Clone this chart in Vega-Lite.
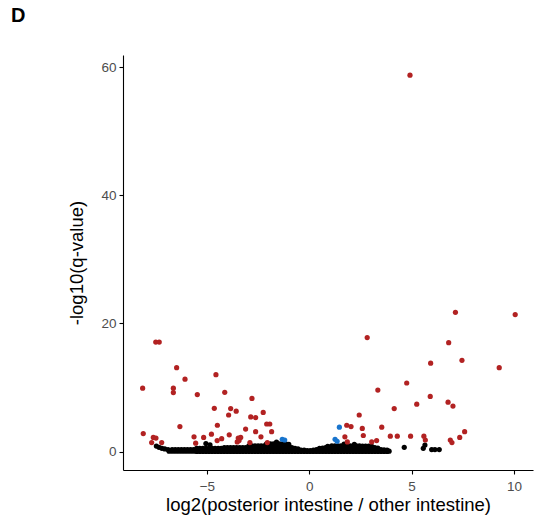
{
 "$schema": "https://vega.github.io/schema/vega-lite/v6.json",
 "width": 410, "height": 415,
 "autosize": {"type": "none"},
 "padding": {"left": 123, "top": 55, "right": 7, "bottom": 59},
 "background": "white",
 "title": {"text": "D", "anchor": "start", "frame": "group", "orient": "top", "offset": 31, "baseline": "alphabetic", "dx": -112, "dy": 18, "fontSize": 20, "fontWeight": "bold", "font": "Liberation Sans", "color": "black"},
 "config": {
   "view": {"stroke": null},
   "axis": {"domainColor": "black", "domainWidth": 1.1, "tickColor": "black", "tickWidth": 1.1, "tickSize": 4, "labelColor": "#4D4D4D", "labelFont": "Liberation Sans", "labelFontSize": 13.5, "titleFont": "Liberation Sans", "titleFontSize": 18.5, "titleFontWeight": "normal", "titleColor": "black", "grid": false}
 },
 "data": {"values": [
  {"x": -7.47, "y": 0.85, "g": "ns"}, {"x": -7.34, "y": 0.65, "g": "ns"}, {"x": -7.2, "y": 0.5, "g": "ns"}, {"x": -7.06, "y": 0.4, "g": "ns"}, {"x": -6.9, "y": 0.3, "g": "ns"}, {"x": -6.85, "y": 0.05, "g": "ns"},
  {"x": -6.7, "y": 0.05, "g": "ns"}, {"x": -6.7, "y": 0.3, "g": "ns"}, {"x": -6.55, "y": 0.05, "g": "ns"}, {"x": -6.55, "y": 0.3, "g": "ns"}, {"x": -6.4, "y": 0.05, "g": "ns"}, {"x": -6.4, "y": 0.3, "g": "ns"}, {"x": -6.25, "y": 0.05, "g": "ns"}, {"x": -6.25, "y": 0.3, "g": "ns"}, {"x": -6.1, "y": 0.05, "g": "ns"}, {"x": -6.1, "y": 0.3, "g": "ns"}, {"x": -5.95, "y": 0.05, "g": "ns"}, {"x": -5.95, "y": 0.3, "g": "ns"}, {"x": -5.8, "y": 0.05, "g": "ns"}, {"x": -5.8, "y": 0.3, "g": "ns"}, {"x": -5.65, "y": 0.05, "g": "ns"}, {"x": -5.65, "y": 0.3, "g": "ns"},
  {"x": -5.5, "y": 0, "g": "ns"}, {"x": -5.5, "y": 0.25, "g": "ns"}, {"x": -5.5, "y": 0.5, "g": "ns"}, {"x": -5.35, "y": 0, "g": "ns"}, {"x": -5.35, "y": 0.25, "g": "ns"}, {"x": -5.35, "y": 0.5, "g": "ns"}, {"x": -5.2, "y": 0, "g": "ns"}, {"x": -5.2, "y": 0.25, "g": "ns"}, {"x": -5.2, "y": 0.5, "g": "ns"}, {"x": -5.05, "y": 0, "g": "ns"}, {"x": -5.05, "y": 0.25, "g": "ns"}, {"x": -5.05, "y": 0.5, "g": "ns"}, {"x": -4.9, "y": 0, "g": "ns"}, {"x": -4.9, "y": 0.25, "g": "ns"}, {"x": -4.9, "y": 0.5, "g": "ns"}, {"x": -4.75, "y": 0, "g": "ns"}, {"x": -4.75, "y": 0.25, "g": "ns"}, {"x": -4.75, "y": 0.5, "g": "ns"}, {"x": -4.6, "y": 0, "g": "ns"}, {"x": -4.6, "y": 0.25, "g": "ns"}, {"x": -4.6, "y": 0.5, "g": "ns"}, {"x": -4.45, "y": 0, "g": "ns"}, {"x": -4.45, "y": 0.25, "g": "ns"}, {"x": -4.45, "y": 0.5, "g": "ns"}, {"x": -4.3, "y": 0, "g": "ns"}, {"x": -4.3, "y": 0.25, "g": "ns"}, {"x": -4.3, "y": 0.5, "g": "ns"},
  {"x": -4.15, "y": 0, "g": "ns"}, {"x": -4.15, "y": 0.3, "g": "ns"}, {"x": -4.15, "y": 0.6, "g": "ns"}, {"x": -4.0, "y": 0, "g": "ns"}, {"x": -4.0, "y": 0.3, "g": "ns"}, {"x": -4.0, "y": 0.6, "g": "ns"}, {"x": -3.85, "y": 0, "g": "ns"}, {"x": -3.85, "y": 0.3, "g": "ns"}, {"x": -3.85, "y": 0.6, "g": "ns"}, {"x": -3.7, "y": 0, "g": "ns"}, {"x": -3.7, "y": 0.3, "g": "ns"}, {"x": -3.7, "y": 0.6, "g": "ns"}, {"x": -3.55, "y": 0, "g": "ns"}, {"x": -3.55, "y": 0.3, "g": "ns"}, {"x": -3.55, "y": 0.6, "g": "ns"}, {"x": -3.4, "y": 0, "g": "ns"}, {"x": -3.4, "y": 0.3, "g": "ns"}, {"x": -3.4, "y": 0.6, "g": "ns"}, {"x": -3.25, "y": 0, "g": "ns"}, {"x": -3.25, "y": 0.3, "g": "ns"}, {"x": -3.25, "y": 0.6, "g": "ns"}, {"x": -3.1, "y": 0, "g": "ns"}, {"x": -3.1, "y": 0.3, "g": "ns"}, {"x": -3.1, "y": 0.6, "g": "ns"},
  {"x": -2.95, "y": 0, "g": "ns"}, {"x": -2.95, "y": 0.3, "g": "ns"}, {"x": -2.95, "y": 0.6, "g": "ns"}, {"x": -2.95, "y": 0.9, "g": "ns"}, {"x": -2.8, "y": 0, "g": "ns"}, {"x": -2.8, "y": 0.3, "g": "ns"}, {"x": -2.8, "y": 0.6, "g": "ns"}, {"x": -2.8, "y": 0.9, "g": "ns"}, {"x": -2.65, "y": 0, "g": "ns"}, {"x": -2.65, "y": 0.3, "g": "ns"}, {"x": -2.65, "y": 0.6, "g": "ns"}, {"x": -2.65, "y": 0.9, "g": "ns"}, {"x": -2.5, "y": 0, "g": "ns"}, {"x": -2.5, "y": 0.3, "g": "ns"}, {"x": -2.5, "y": 0.6, "g": "ns"}, {"x": -2.5, "y": 0.9, "g": "ns"}, {"x": -2.35, "y": 0, "g": "ns"}, {"x": -2.35, "y": 0.3, "g": "ns"}, {"x": -2.35, "y": 0.6, "g": "ns"}, {"x": -2.35, "y": 0.9, "g": "ns"}, {"x": -2.2, "y": 0, "g": "ns"}, {"x": -2.2, "y": 0.3, "g": "ns"}, {"x": -2.2, "y": 0.6, "g": "ns"}, {"x": -2.2, "y": 0.9, "g": "ns"}, {"x": -2.05, "y": 0, "g": "ns"}, {"x": -2.05, "y": 0.3, "g": "ns"}, {"x": -2.05, "y": 0.6, "g": "ns"}, {"x": -2.05, "y": 0.9, "g": "ns"},
  {"x": -1.9, "y": 0, "g": "ns"}, {"x": -1.9, "y": 0.3, "g": "ns"}, {"x": -1.9, "y": 0.6, "g": "ns"}, {"x": -1.9, "y": 0.9, "g": "ns"}, {"x": -1.9, "y": 1.2, "g": "ns"}, {"x": -1.75, "y": 0, "g": "ns"}, {"x": -1.75, "y": 0.3, "g": "ns"}, {"x": -1.75, "y": 0.6, "g": "ns"}, {"x": -1.75, "y": 0.9, "g": "ns"}, {"x": -1.75, "y": 1.2, "g": "ns"}, {"x": -1.6, "y": 0, "g": "ns"}, {"x": -1.6, "y": 0.3, "g": "ns"}, {"x": -1.6, "y": 0.6, "g": "ns"}, {"x": -1.6, "y": 0.9, "g": "ns"}, {"x": -1.6, "y": 1.2, "g": "ns"}, {"x": -1.45, "y": 0, "g": "ns"}, {"x": -1.45, "y": 0.3, "g": "ns"}, {"x": -1.45, "y": 0.6, "g": "ns"}, {"x": -1.45, "y": 0.9, "g": "ns"}, {"x": -1.45, "y": 1.2, "g": "ns"}, {"x": -1.3, "y": 0, "g": "ns"}, {"x": -1.3, "y": 0.3, "g": "ns"}, {"x": -1.3, "y": 0.6, "g": "ns"}, {"x": -1.3, "y": 0.9, "g": "ns"}, {"x": -1.3, "y": 1.2, "g": "ns"}, {"x": -1.15, "y": 0, "g": "ns"}, {"x": -1.15, "y": 0.3, "g": "ns"}, {"x": -1.15, "y": 0.6, "g": "ns"}, {"x": -1.15, "y": 0.9, "g": "ns"}, {"x": -1.15, "y": 1.2, "g": "ns"}, {"x": -1.0, "y": 0, "g": "ns"}, {"x": -1.0, "y": 0.3, "g": "ns"}, {"x": -1.0, "y": 0.6, "g": "ns"}, {"x": -1.0, "y": 0.9, "g": "ns"}, {"x": -1.0, "y": 1.1, "g": "ns"},
  {"x": -0.85, "y": 0, "g": "ns"}, {"x": -0.85, "y": 0.3, "g": "ns"}, {"x": -0.85, "y": 0.6, "g": "ns"}, {"x": -0.7, "y": 0, "g": "ns"}, {"x": -0.7, "y": 0.3, "g": "ns"}, {"x": -0.7, "y": 0.5, "g": "ns"}, {"x": -0.55, "y": 0, "g": "ns"}, {"x": -0.55, "y": 0.3, "g": "ns"}, {"x": -0.55, "y": 0.4, "g": "ns"},
  {"x": -0.4, "y": 0, "g": "ns"}, {"x": -0.4, "y": 0.2, "g": "ns"}, {"x": -0.25, "y": 0, "g": "ns"}, {"x": -0.25, "y": 0.2, "g": "ns"}, {"x": -0.1, "y": 0, "g": "ns"}, {"x": -0.1, "y": 0.15, "g": "ns"}, {"x": 0.05, "y": 0, "g": "ns"}, {"x": 0.05, "y": 0.15, "g": "ns"}, {"x": 0.2, "y": 0, "g": "ns"}, {"x": 0.2, "y": 0.2, "g": "ns"}, {"x": 0.35, "y": 0, "g": "ns"}, {"x": 0.35, "y": 0.3, "g": "ns"},
  {"x": 0.5, "y": 0, "g": "ns"}, {"x": 0.5, "y": 0.3, "g": "ns"}, {"x": 0.5, "y": 0.5, "g": "ns"}, {"x": 0.65, "y": 0, "g": "ns"}, {"x": 0.65, "y": 0.3, "g": "ns"}, {"x": 0.65, "y": 0.55, "g": "ns"}, {"x": 0.8, "y": 0, "g": "ns"}, {"x": 0.8, "y": 0.3, "g": "ns"}, {"x": 0.8, "y": 0.6, "g": "ns"}, {"x": 0.95, "y": 0, "g": "ns"}, {"x": 0.95, "y": 0.3, "g": "ns"}, {"x": 0.95, "y": 0.7, "g": "ns"},
  {"x": 1.1, "y": 0, "g": "ns"}, {"x": 1.1, "y": 0.3, "g": "ns"}, {"x": 1.1, "y": 0.6, "g": "ns"}, {"x": 1.1, "y": 0.9, "g": "ns"}, {"x": 1.25, "y": 0, "g": "ns"}, {"x": 1.25, "y": 0.3, "g": "ns"}, {"x": 1.25, "y": 0.6, "g": "ns"}, {"x": 1.25, "y": 0.9, "g": "ns"}, {"x": 1.4, "y": 0, "g": "ns"}, {"x": 1.4, "y": 0.3, "g": "ns"}, {"x": 1.4, "y": 0.6, "g": "ns"}, {"x": 1.4, "y": 0.9, "g": "ns"}, {"x": 1.55, "y": 0, "g": "ns"}, {"x": 1.55, "y": 0.3, "g": "ns"}, {"x": 1.55, "y": 0.6, "g": "ns"}, {"x": 1.55, "y": 0.9, "g": "ns"}, {"x": 1.7, "y": 0, "g": "ns"}, {"x": 1.7, "y": 0.3, "g": "ns"}, {"x": 1.7, "y": 0.6, "g": "ns"}, {"x": 1.7, "y": 0.9, "g": "ns"}, {"x": 1.85, "y": 0, "g": "ns"}, {"x": 1.85, "y": 0.3, "g": "ns"}, {"x": 1.85, "y": 0.6, "g": "ns"}, {"x": 1.85, "y": 0.9, "g": "ns"}, {"x": 2.0, "y": 0, "g": "ns"}, {"x": 2.0, "y": 0.3, "g": "ns"}, {"x": 2.0, "y": 0.6, "g": "ns"}, {"x": 2.0, "y": 0.9, "g": "ns"}, {"x": 2.15, "y": 0, "g": "ns"}, {"x": 2.15, "y": 0.3, "g": "ns"}, {"x": 2.15, "y": 0.6, "g": "ns"}, {"x": 2.15, "y": 0.9, "g": "ns"}, {"x": 2.3, "y": 0, "g": "ns"}, {"x": 2.3, "y": 0.3, "g": "ns"}, {"x": 2.3, "y": 0.6, "g": "ns"}, {"x": 2.3, "y": 0.9, "g": "ns"}, {"x": 2.45, "y": 0, "g": "ns"}, {"x": 2.45, "y": 0.3, "g": "ns"}, {"x": 2.45, "y": 0.6, "g": "ns"}, {"x": 2.45, "y": 0.9, "g": "ns"},
  {"x": 2.6, "y": 0, "g": "ns"}, {"x": 2.6, "y": 0.3, "g": "ns"}, {"x": 2.6, "y": 0.6, "g": "ns"}, {"x": 2.6, "y": 0.85, "g": "ns"}, {"x": 2.75, "y": 0, "g": "ns"}, {"x": 2.75, "y": 0.3, "g": "ns"}, {"x": 2.75, "y": 0.6, "g": "ns"}, {"x": 2.75, "y": 0.85, "g": "ns"}, {"x": 2.9, "y": 0, "g": "ns"}, {"x": 2.9, "y": 0.3, "g": "ns"}, {"x": 2.9, "y": 0.6, "g": "ns"}, {"x": 2.9, "y": 0.85, "g": "ns"}, {"x": 3.05, "y": 0, "g": "ns"}, {"x": 3.05, "y": 0.3, "g": "ns"}, {"x": 3.05, "y": 0.6, "g": "ns"}, {"x": 3.05, "y": 0.8, "g": "ns"}, {"x": 3.2, "y": 0, "g": "ns"}, {"x": 3.2, "y": 0.3, "g": "ns"}, {"x": 3.2, "y": 0.6, "g": "ns"}, {"x": 3.35, "y": 0, "g": "ns"}, {"x": 3.35, "y": 0.3, "g": "ns"}, {"x": 3.35, "y": 0.55, "g": "ns"},
  {"x": 3.5, "y": 0, "g": "ns"}, {"x": 3.5, "y": 0.3, "g": "ns"}, {"x": 3.65, "y": 0, "g": "ns"}, {"x": 3.65, "y": 0.25, "g": "ns"}, {"x": 3.8, "y": 0, "g": "ns"}, {"x": 3.8, "y": 0.2, "g": "ns"}, {"x": 3.9, "y": 0.05, "g": "ns"},
  {"x": -5.05, "y": 1.25, "g": "ns"}, {"x": -4.85, "y": 1.05, "g": "ns"}, {"x": -1.6, "y": 1.45, "g": "ns"}, {"x": -2.1, "y": 1.15, "g": "ns"}, {"x": 1.7, "y": 1.15, "g": "ns"}, {"x": 2.2, "y": 1.1, "g": "ns"}, {"x": 0.9, "y": 0.8, "g": "ns"},
  {"x": 4.64, "y": 0.65, "g": "ns"}, {"x": 5.57, "y": 0.5, "g": "ns"}, {"x": 5.65, "y": 1.0, "g": "ns"}, {"x": 5.98, "y": 0.3, "g": "ns"}, {"x": 6.14, "y": 0.3, "g": "ns"}, {"x": 6.35, "y": 0.3, "g": "ns"},
  {"x": -7.5, "y": 17.1, "g": "sig"}, {"x": -7.33, "y": 17.1, "g": "sig"}, {"x": -8.14, "y": 9.9, "g": "sig"}, {"x": -6.48, "y": 13.1, "g": "sig"}, {"x": -6.07, "y": 11.3, "g": "sig"}, {"x": -6.64, "y": 9.9, "g": "sig"}, {"x": -6.64, "y": 9.2, "g": "sig"}, {"x": -5.47, "y": 8.9, "g": "sig"}, {"x": -4.56, "y": 12.0, "g": "sig"}, {"x": -4.13, "y": 9.25, "g": "sig"}, {"x": -4.64, "y": 6.75, "g": "sig"}, {"x": -3.84, "y": 6.7, "g": "sig"}, {"x": -3.57, "y": 6.3, "g": "sig"}, {"x": -3.94, "y": 5.7, "g": "sig"}, {"x": -2.8, "y": 8.3, "g": "sig"}, {"x": -2.86, "y": 5.4, "g": "sig"}, {"x": -2.62, "y": 5.3, "g": "sig"}, {"x": -2.25, "y": 6.1, "g": "sig"}, {"x": -2.08, "y": 4.3, "g": "sig"}, {"x": -1.93, "y": 4.3, "g": "sig"}, {"x": -1.84, "y": 3.1, "g": "sig"}, {"x": -6.32, "y": 3.9, "g": "sig"}, {"x": -4.49, "y": 4.1, "g": "sig"}, {"x": -3.11, "y": 3.5, "g": "sig"}, {"x": -2.62, "y": 3.1, "g": "sig"}, {"x": -8.11, "y": 2.8, "g": "sig"}, {"x": -7.62, "y": 2.2, "g": "sig"}, {"x": -7.49, "y": 2.1, "g": "sig"}, {"x": -7.7, "y": 1.4, "g": "sig"}, {"x": -7.21, "y": 1.4, "g": "sig"}, {"x": -5.63, "y": 2.3, "g": "sig"}, {"x": -5.55, "y": 1.3, "g": "sig"}, {"x": -5.16, "y": 2.2, "g": "sig"}, {"x": -4.78, "y": 2.7, "g": "sig"}, {"x": -4.28, "y": 2.0, "g": "sig"}, {"x": -4.5, "y": 1.7, "g": "sig"}, {"x": -3.91, "y": 2.6, "g": "sig"}, {"x": -3.47, "y": 2.1, "g": "sig"}, {"x": -3.35, "y": 2.2, "g": "sig"}, {"x": -3.52, "y": 1.5, "g": "sig"}, {"x": -3.43, "y": 1.7, "g": "sig"}, {"x": -2.36, "y": 2.3, "g": "sig"}, {"x": -2.05, "y": 1.4, "g": "sig"}, {"x": -2.9, "y": 1.4, "g": "sig"},
  {"x": 4.92, "y": 58.8, "g": "sig"}, {"x": 7.14, "y": 21.75, "g": "sig"}, {"x": 10.06, "y": 21.4, "g": "sig"}, {"x": 2.83, "y": 17.8, "g": "sig"}, {"x": 6.81, "y": 17.0, "g": "sig"}, {"x": 5.93, "y": 13.8, "g": "sig"}, {"x": 7.46, "y": 14.25, "g": "sig"}, {"x": 9.28, "y": 13.1, "g": "sig"}, {"x": 3.35, "y": 9.6, "g": "sig"}, {"x": 4.76, "y": 10.7, "g": "sig"}, {"x": 5.91, "y": 8.6, "g": "sig"}, {"x": 5.25, "y": 7.4, "g": "sig"}, {"x": 6.78, "y": 7.7, "g": "sig"}, {"x": 7.02, "y": 7.1, "g": "sig"}, {"x": 4.15, "y": 6.7, "g": "sig"}, {"x": 2.44, "y": 5.7, "g": "sig"}, {"x": 3.54, "y": 3.8, "g": "sig"}, {"x": 1.83, "y": 4.1, "g": "sig"}, {"x": 2.04, "y": 3.9, "g": "sig"}, {"x": 2.59, "y": 3.6, "g": "sig"}, {"x": 7.59, "y": 3.1, "g": "sig"}, {"x": 1.74, "y": 2.3, "g": "sig"}, {"x": 2.64, "y": 2.5, "g": "sig"}, {"x": 3.96, "y": 2.4, "g": "sig"}, {"x": 4.3, "y": 2.4, "g": "sig"}, {"x": 4.95, "y": 2.4, "g": "sig"}, {"x": 5.6, "y": 2.4, "g": "sig"}, {"x": 5.67, "y": 1.8, "g": "sig"}, {"x": 7.35, "y": 2.2, "g": "sig"}, {"x": 6.89, "y": 1.8, "g": "sig"}, {"x": 6.97, "y": 1.4, "g": "sig"}, {"x": 3.05, "y": 1.5, "g": "sig"}, {"x": 3.29, "y": 1.7, "g": "sig"}, {"x": 1.86, "y": 1.5, "g": "sig"},
  {"x": -1.32, "y": 1.9, "g": "fc"}, {"x": -1.2, "y": 1.8, "g": "fc"}, {"x": 1.47, "y": 3.8, "g": "fc"}, {"x": 1.26, "y": 1.9, "g": "fc"}, {"x": 1.36, "y": 1.6, "g": "fc"}
 ]},
 "mark": {"type": "circle", "size": 27, "opacity": 1},
 "encoding": {
   "x": {"field": "x", "type": "quantitative", "scale": {"domain": [-9.1, 10.93], "nice": false, "zero": false}, "axis": {"values": [-5, 0, 5, 10], "title": "log2(posterior intestine / other intestine)", "labelPadding": 5, "titlePadding": 3}},
   "y": {"field": "y", "type": "quantitative", "scale": {"domain": [-2.89, 61.95], "nice": false, "zero": false}, "axis": {"values": [0, 20, 40, 60], "title": "-log10(q-value)", "labelPadding": 3, "titlePadding": 14}},
   "color": {"field": "g", "type": "nominal", "scale": {"domain": ["ns", "sig", "fc"], "range": ["#000000", "#B22222", "#1874CD"]}, "legend": null}
 }
}
